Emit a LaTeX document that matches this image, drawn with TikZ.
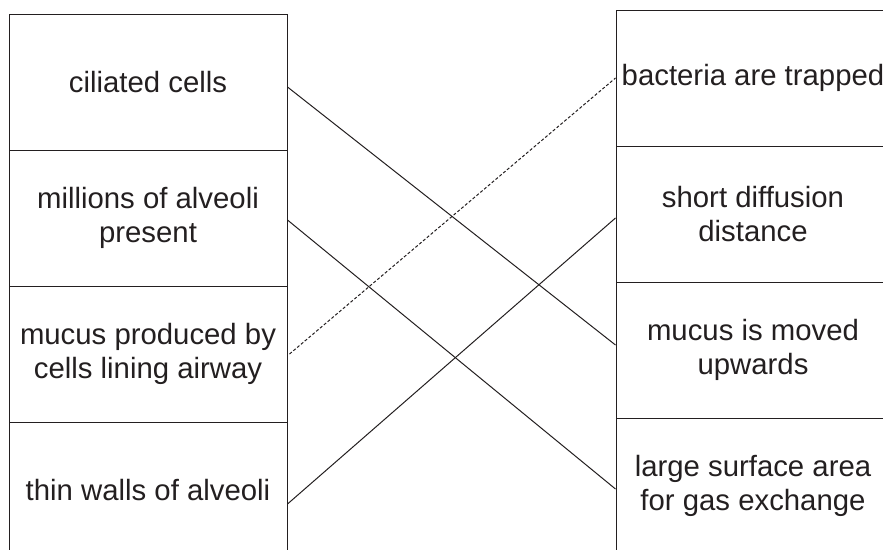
\documentclass[tikz,border=0pt]{standalone}
\usepackage{fontspec}
\setmainfont{Liberation Sans}
\usetikzlibrary{arrows}
\definecolor{inkgray}{RGB}{35,31,32}

\tikzset{
  cell/.style={draw=inkgray, line width=0.75pt, rectangle, minimum height=102pt, inner sep=0pt, align=center, text=inkgray, font=\fontsize{22}{25.5}\selectfont},
  leftcell/.style={cell, minimum width=208.5pt},
  rightcell/.style={cell, minimum width=205.5pt},
  link/.style={draw=inkgray, line width=0.75pt},
  dotlink/.style={link, dash pattern={on 2.25pt off 1.5pt}},
}

\begin{document}
\begin{tikzpicture}[x=0.75pt,y=0.75pt,yscale=-1,xscale=1]
\useasboundingbox (0,0) rectangle (883,550);

% Left column
\node [leftcell] (cilia) at (148,82) {ciliated cells};
\node [leftcell] (alveoli) at (148,218) {millions of alveoli\\present};
\node [leftcell] (mucus) at (148,354) {mucus produced by\\cells lining airway};
\node [leftcell] (thin) at (148,490) {thin walls of alveoli};

% Right column
\node [rightcell] (trapped) at (753,78) {bacteria are trapped};
\node [rightcell] (diffusion) at (753,214) {short diffusion\\distance};
\node [rightcell] (upward) at (753,350) {mucus is moved\\upwards};
\node [rightcell] (surface) at (753,486) {large surface area\\for gas exchange};

% Straight Lines
\draw [link] ([yshift=3.75pt]cilia.east) -- ([yshift=-3.75pt]upward.west);
\draw [link] ([yshift=1.5pt]alveoli.east) -- ([yshift=2.25pt]surface.west);
\draw [dotlink] ([xshift=1.5pt]mucus.east) -- (trapped.west);
\draw [link] ([yshift=10.5pt]thin.east) -- ([yshift=3pt]diffusion.west);

\end{tikzpicture}
\end{document}
